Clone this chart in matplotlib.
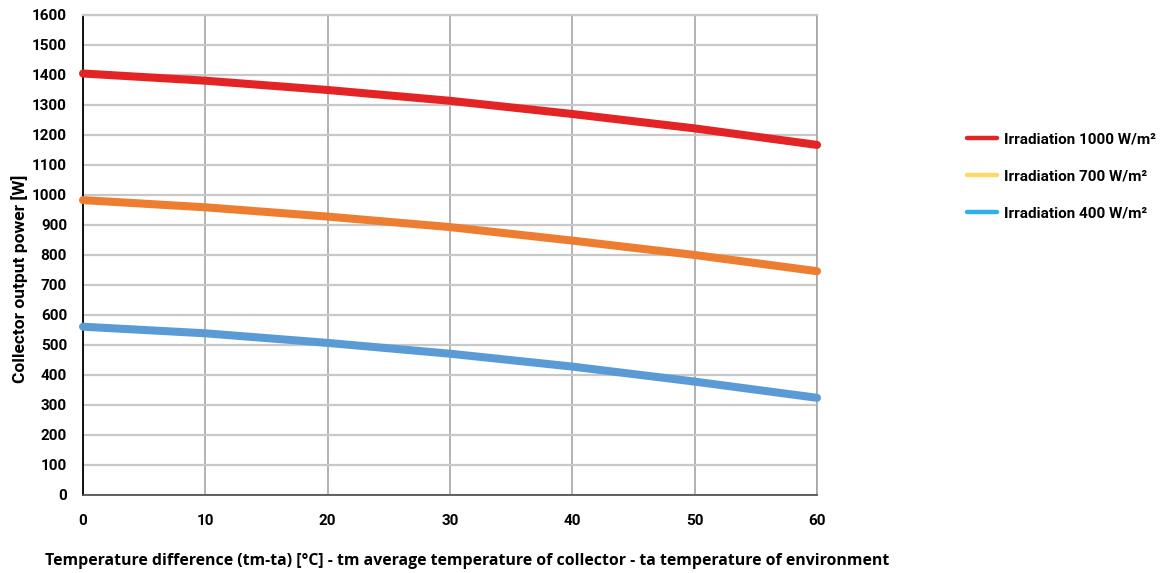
import matplotlib
matplotlib.use('Agg')
import matplotlib.pyplot as plt
from matplotlib.lines import Line2D

# temperature difference tm-ta [°C]
temp_diff = [0, 10, 20, 30, 40, 50, 60]

# collector output power [W] per irradiation level
power_1000 = [1405, 1381, 1350, 1314, 1270, 1222, 1167]
power_700 = [983, 959, 928, 893, 848, 800, 746]
power_400 = [561, 539, 507, 471, 428, 378, 324]

labels = ['Irradiation 1000 W/m²', 'Irradiation 700 W/m²', 'Irradiation 400 W/m²']
line_colors = ['#E42324', '#ED7D31', '#5B9BD5']
legend_colors = ['#E42324', '#FFD966', '#2FB0E8']

x_ticks = [0, 10, 20, 30, 40, 50, 60]
y_ticks = list(range(0, 1700, 100))

plt.rcParams['font.family'] = ['Roboto', 'DejaVu Sans']
plt.rcParams['font.weight'] = 'bold'

fig = plt.figure(figsize=(11.64, 5.73), dpi=100)
ax = fig.add_axes([83 / 1164, 1 - 495 / 573, (817 - 83) / 1164, 480 / 573])

for ys, c in zip([power_1000, power_700, power_400], line_colors):
    ax.plot(temp_diff, ys, color=c, lw=5.8, solid_capstyle='round', zorder=3, clip_on=False)

ax.set_xlim(0, 60)
ax.set_ylim(0, 1600)
ax.set_xticks(x_ticks)
ax.set_yticks(y_ticks)
ax.tick_params(length=0, labelsize=11)
ax.tick_params(axis='x', pad=14)
ax.tick_params(axis='y', pad=11.5)
for t in ax.get_xticklabels() + ax.get_yticklabels():
    t.set_fontweight('bold')

ax.grid(axis='x', color='#a6a6a6', lw=1.2)
ax.grid(axis='y', color='#c8c8c8', lw=1.6)
ax.set_axisbelow(True)
ax.spines['left'].set_color('black')
ax.spines['left'].set_linewidth(1.3)
ax.spines['bottom'].set_color('#555555')
ax.spines['bottom'].set_linewidth(1.3)
ax.spines['top'].set_color('#c8c8c8')
ax.spines['top'].set_linewidth(1.6)
ax.spines['right'].set_color('#a6a6a6')
ax.spines['right'].set_linewidth(1.2)

ax.set_ylabel('Collector output power [W]', fontsize=12.5, fontweight='bold')
ax.yaxis.set_label_coords((28 - 83) / 734, 0.45)
fig.text(467 / 1164, 1 - 561 / 573,
         'Temperature difference (tm-ta) [°C] - tm average temperature of collector - ta temperature of environment',
         ha='center', va='center', fontsize=11.4, fontweight='bold', family=['Open Sans', 'DejaVu Sans'])

handles = [Line2D([0], [0], color=c, lw=3.2, solid_capstyle='round') for c in legend_colors]
fig.legend(handles, labels, loc='upper left', bbox_to_anchor=(953 / 1164, 1 - 119 / 573),
           frameon=False, handlelength=2.0, handletextpad=0.45,
           labelspacing=1.5, prop={'family': ['Roboto', 'DejaVu Sans'], 'weight': 'bold', 'size': 11})

fig.savefig('out.png', dpi=100)
